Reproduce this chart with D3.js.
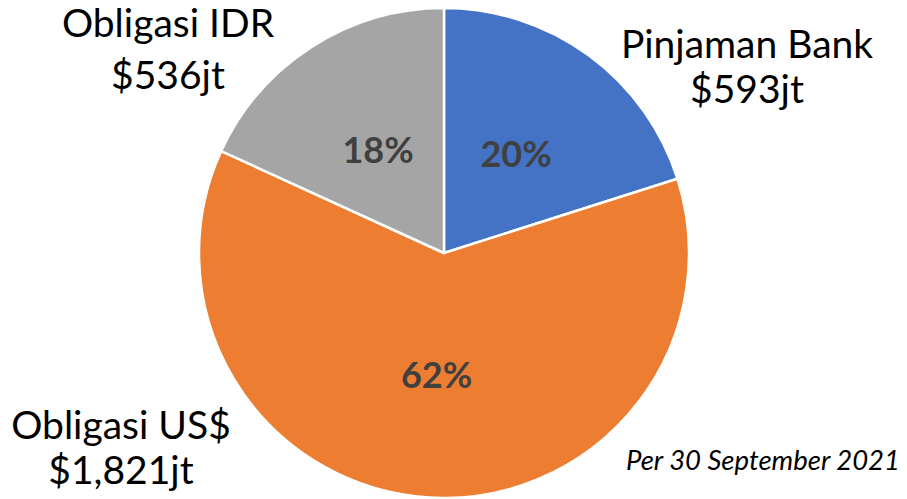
<!DOCTYPE html>
<html>
<head>
<meta charset="utf-8">
<script src="https://cdn.jsdelivr.net/npm/d3@7"></script>
<style>
  body { margin: 0; background: #fff; }
  text { font-family: Lato, "Open Sans", sans-serif; }
</style>
</head>
<body>
<div id="vis-container"></div>
<script>
var categories = ["Pinjaman Bank", "Obligasi US$", "Obligasi IDR"];
var values     = [593, 1821, 536];
var amountLabels = ["$593jt", "$1,821jt", "$536jt"];
var colors     = ["#4472C4", "#ED7D31", "#A5A5A5"];

var width = 907, height = 499;
var cx = 444, cy = 253, radius = 245;

var svg = d3.select("#vis-container").append("svg")
    .attr("width", width)
    .attr("height", height);

var g = svg.append("g")
    .attr("transform", "translate(" + cx + "," + cy + ")");

var pie = d3.pie().sort(null).value(function(d) { return d; });
var arcs = pie(values);
var total = d3.sum(values);

var arc = d3.arc().innerRadius(0).outerRadius(radius);
var labelArc = d3.arc().innerRadius(122).outerRadius(122);

g.selectAll("path")
    .data(arcs)
    .enter().append("path")
    .attr("d", arc)
    .attr("fill", function(d, i) { return colors[i]; })
    .attr("stroke", "#fff")
    .attr("stroke-width", 2.5)
    .attr("stroke-linejoin", "round");

// percent labels
g.selectAll(".pct")
    .data(arcs)
    .enter().append("text")
    .attr("class", "pct")
    .attr("transform", function(d) { return "translate(" + labelArc.centroid(d) + ")"; })
    .attr("text-anchor", "middle")
    .attr("dy", "0.36em")
    .attr("font-size", 36)
    .attr("font-weight", "bold")
    .attr("fill", "#404040")
    .text(function(d) { return Math.round(d.value / total * 100) + "%"; });

// category labels (outside)
var labelPos = [
    { x: 747, y1: 58, y2: 103 },
    { x: 121, y1: 439, y2: 484 },
    { x: 168, y1: 37, y2: 89 }
];

categories.forEach(function(c, i) {
    var t = svg.append("text")
        .attr("text-anchor", "middle")
        .attr("font-size", 39)
        .attr("fill", "#000");
    t.append("tspan").attr("x", labelPos[i].x).attr("y", labelPos[i].y1).text(c);
    t.append("tspan").attr("x", labelPos[i].x).attr("y", labelPos[i].y2).text(amountLabels[i]);
});

svg.append("text")
    .attr("x", 900)
    .attr("y", 470)
    .attr("text-anchor", "end")
    .attr("font-size", 27.5)
    .attr("font-style", "italic")
    .attr("fill", "#000")
    .text("Per 30 September 2021");
</script>
</body>
</html>
